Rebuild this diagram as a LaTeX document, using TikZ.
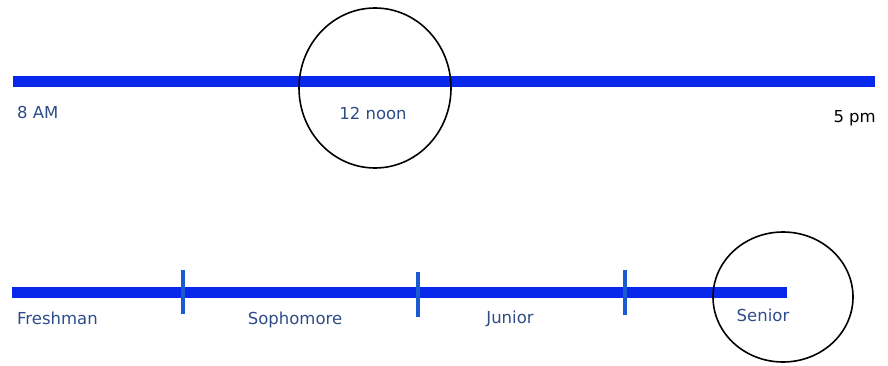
\documentclass[tikz,border=0pt]{standalone}
\usepackage{fontspec}
\setmainfont{DejaVu Sans}
\usetikzlibrary{positioning}
\definecolor{barblue}{HTML}{0828EC}
\definecolor{tickblue}{HTML}{1A5CD0}
\definecolor{lblblue}{HTML}{2E4C88}
\tikzset{
  lbl/.style={font=\fontsize{16.5}{19}\selectfont,text=lblblue,inner sep=0pt},
  ring/.style={draw=black,line width=1.6pt}
}
\begin{document}
\begin{tikzpicture}[x=1pt,y=-1pt]
\useasboundingbox (0,0) rectangle (888,366);
% day line
\draw[barblue,line width=11pt] (13,82) -- (875,82);
\draw[ring] (375,88) ellipse [x radius=76, y radius=80];
\node[lbl,anchor=west] (am) at (17,112) {8 AM};
\node[lbl] (noon) at (373,113) {12 noon};
\node[lbl,anchor=east,text=black] (pm) at (876,118) {5 pm};
% school years
\draw[barblue,line width=11pt] (12,292) -- (787,292);
\foreach \x/\ya/\yb in {183/270/314, 418/272/317, 625/270/315}{
  \draw[tickblue,line width=4pt] (\x,\ya) -- (\x,\yb);
}
\draw[ring] (783,297) ellipse [x radius=70, y radius=65];
\foreach \x/\y/\nm/\lab in {17/318/fresh/Freshman, 295/320/soph/Sophomore,
  510/319/jun/Junior, 763/315/sen/Senior}{
  \ifnum\x=17
    \node[lbl,anchor=west] (\nm) at (\x,\y) {\lab};
  \else
    \node[lbl] (\nm) at (\x,\y) {\lab};
  \fi
}
\end{tikzpicture}
\end{document}
